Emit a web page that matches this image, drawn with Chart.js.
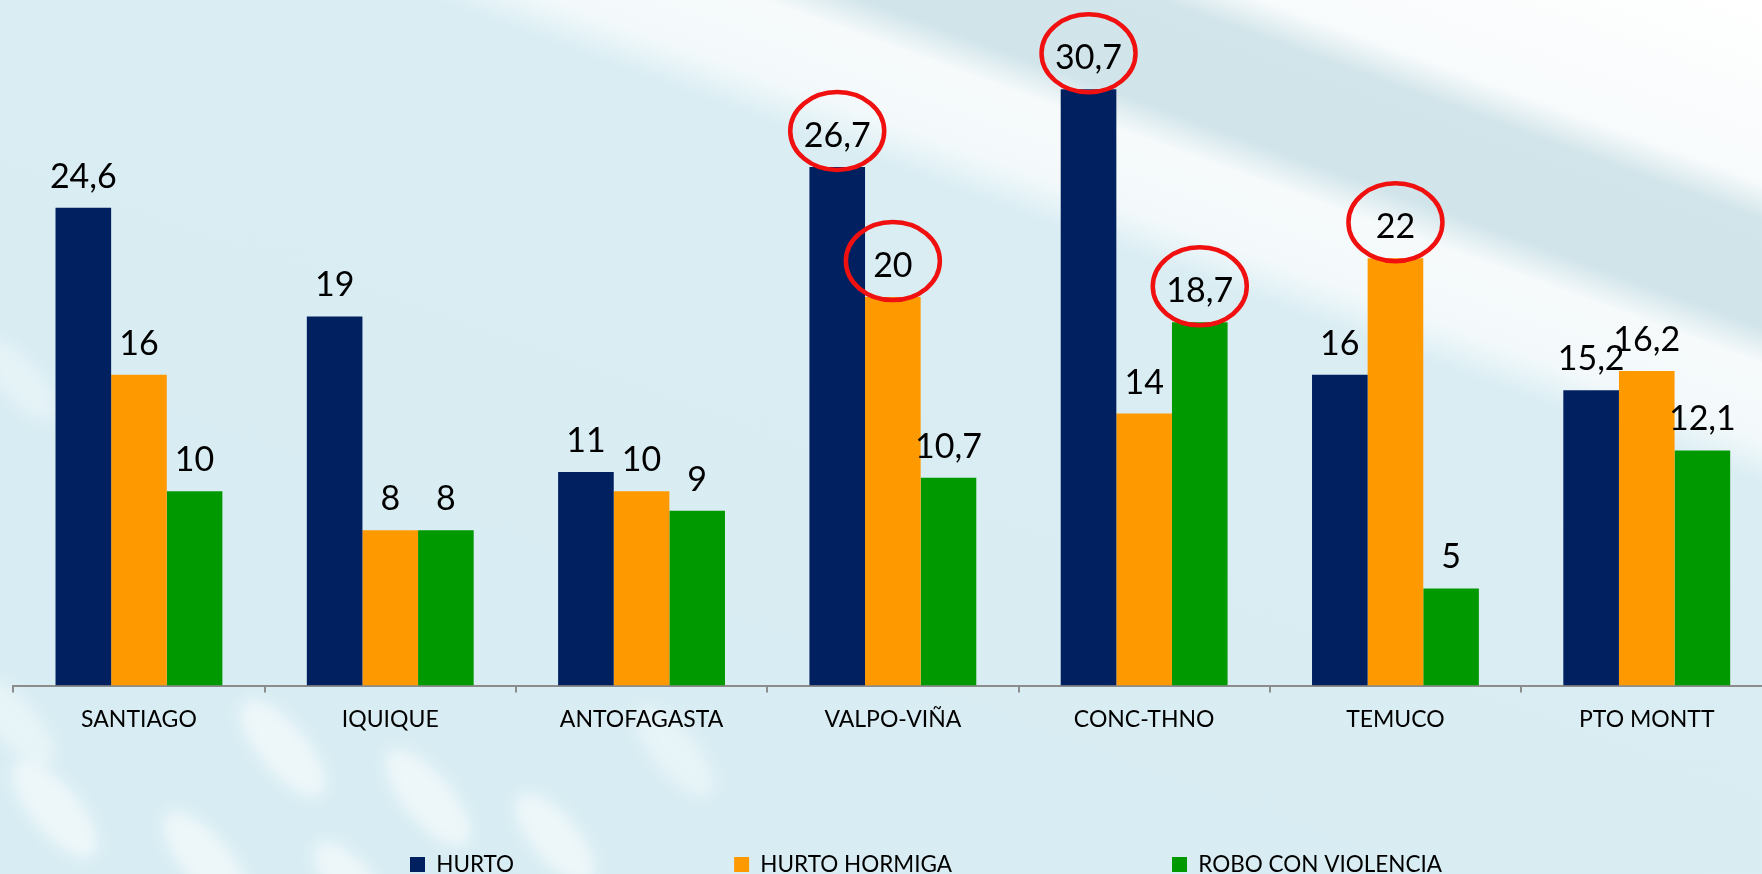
<!DOCTYPE html>
<html>
<head>
<meta charset="utf-8">
<script src="https://cdn.jsdelivr.net/npm/chart.js@4.4.1/dist/chart.umd.min.js"></script>
<style>
html, body { margin: 0; padding: 0; width: 1762px; height: 874px; overflow: hidden; }
body {
  position: relative;
  background:
    linear-gradient(200deg, #ffffff 0%, #f8fbfc 12%, #d2e5ea 14.5%, #d0e4ea 21.5%, #f6fafb 24%, #f3f9fb 29%, #d9edf3 32%, #d8edf3 100%);
}
.oval { position: absolute; background: rgba(255,255,255,0.55); border-radius: 50%; filter: blur(7px); transform: rotate(50deg); }
#wrap { position: absolute; left: 0; top: 0; width: 1776px; height: 874px; }
</style>
</head>
<body>
<div class="oval" style="left:-5px;top:785px;width:120px;height:48px;"></div>
<div class="oval" style="left:146px;top:836px;width:120px;height:48px;"></div>
<div class="oval" style="left:223px;top:724px;width:120px;height:48px;"></div>
<div class="oval" style="left:368px;top:774px;width:120px;height:48px;"></div>
<div class="oval" style="left:300px;top:860px;width:100px;height:44px;"></div>
<div class="oval" style="left:500px;top:815px;width:110px;height:46px;"></div>
<div class="oval" style="left:620px;top:730px;width:110px;height:44px;opacity:0.7;"></div>
<div class="oval" style="left:-40px;top:700px;width:110px;height:44px;opacity:0.7;"></div>
<div class="oval" style="left:-30px;top:360px;width:100px;height:40px;opacity:0.6;"></div>
<div id="wrap"><canvas id="c"></canvas></div>
<script>
const categories = ['SANTIAGO', 'IQUIQUE', 'ANTOFAGASTA', 'VALPO-VIÑA', 'CONC-THNO', 'TEMUCO', 'PTO MONTT'];
const seriesNames = ['HURTO', 'HURTO HORMIGA', 'ROBO CON VIOLENCIA'];
const hurto = [24.6, 19, 11, 26.7, 30.7, 16, 15.2];
const hurtoHormiga = [16, 8, 10, 20, 14, 22, 16.2];
const roboConViolencia = [10, 8, 9, 10.7, 18.7, 5, 12.1];
const seriesColors = ['#002060', '#FF9900', '#009900'];
// highlighted (circled) values: category indices per series
const circledHurto = [3, 4];
const circledHormiga = [3, 5];
const circledRobo = [4];

const fmt = v => String(v).replace('.', ',');

const valueLabels = {
  id: 'valueLabels',
  afterDatasetsDraw(chart) {
    const ctx = chart.ctx;
    ctx.save();
    ctx.font = '34px Lato';
    ctx.fillStyle = '#000';
    ctx.textAlign = 'center';
    ctx.textBaseline = 'middle';
    chart.data.datasets.forEach((ds, di) => {
      const meta = chart.getDatasetMeta(di);
      meta.data.forEach((bar, i) => {
        ctx.fillText(fmt(ds.data[i]), bar.x, bar.y - 31);
      });
    });
    const circled = [circledHurto, circledHormiga, circledRobo];
    ctx.strokeStyle = '#F01010';
    ctx.lineWidth = 4.5;
    circled.forEach((idxs, di) => {
      const meta = chart.getDatasetMeta(di);
      idxs.forEach(i => {
        const bar = meta.data[i];
        ctx.beginPath();
        ctx.ellipse(bar.x, bar.y - 36, 47, 39, 0, 0, Math.PI * 2);
        ctx.stroke();
      });
    });
    ctx.restore();
  }
};

const legendPlace = {
  id: 'legendPlace',
  afterLayout(chart) {
    const lg = chart.legend;
    const pad = lg.options.labels.padding;
    const fs = lg.options.labels.font.size;
    lg.left = 410 - pad;
    lg.top = 864.5 - pad - fs / 2;
    lg.bottom = 874;
  }
};

new Chart(document.getElementById('c'), {
  type: 'bar',
  data: {
    labels: categories,
    datasets: [
      { label: seriesNames[0], data: hurto, backgroundColor: seriesColors[0] },
      { label: seriesNames[1], data: hurtoHormiga, backgroundColor: seriesColors[1] },
      { label: seriesNames[2], data: roboConViolencia, backgroundColor: seriesColors[2] }
    ]
  },
  options: {
    responsive: true,
    maintainAspectRatio: false,
    animation: false,
    devicePixelRatio: 1,
    datasets: { bar: { categoryPercentage: 0.664, barPercentage: 1.0, borderWidth: 0 } },
    layout: { padding: { left: 13.3, right: 3.6, top: 5.8, bottom: 0 } },
    plugins: {
      tooltip: { enabled: false },
      legend: {
        position: 'bottom',
        align: 'start',
        maxHeight: 40,
        labels: {
          boxWidth: 15,
          boxHeight: 15,
          padding: 220,
          color: '#000',
          font: { family: 'Lato', size: 22.5 }
        }
      }
    },
    scales: {
      x: {
        grid: { display: true, drawOnChartArea: false, drawTicks: true, tickLength: 7, color: '#8c8c8c', lineWidth: 2, offset: true },
        border: { display: true, color: '#8c8c8c', width: 2 },
        ticks: { color: '#000', font: { family: 'Lato', size: 23 }, padding: 13, maxRotation: 0, autoSkip: false },
        afterFit(scale) { scale.height = 148.5; }
      },
      y: { display: false, min: 0, max: 35 }
    }
  },
  plugins: [valueLabels, legendPlace]
});
</script>
</body>
</html>
